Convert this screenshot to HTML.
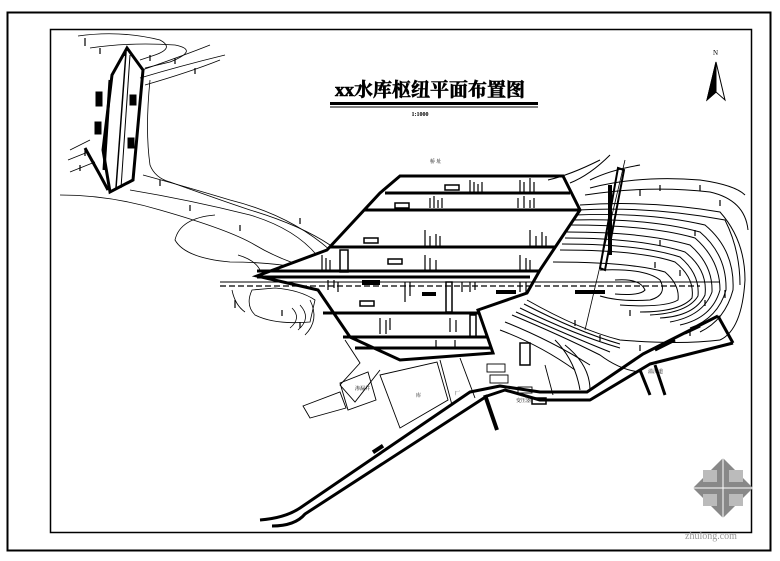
<!DOCTYPE html>
<html><head><meta charset="utf-8"><style>
html,body{margin:0;padding:0;background:#fff}
svg{display:block}
text{font-family:"Liberation Serif","Noto Serif CJK SC",serif}
</style></head><body>
<svg width="780" height="561" viewBox="0 0 780 561" xmlns="http://www.w3.org/2000/svg">
<rect x="0" y="0" width="780" height="561" fill="#fff"/>
<rect x="7.5" y="12.5" width="763" height="538" fill="none" stroke="#000" stroke-width="2"/>
<rect x="50.5" y="29.5" width="701" height="503" fill="none" stroke="#000" stroke-width="1.5"/>

<!-- title -->
<text x="430" y="96" font-size="19" font-weight="bold" text-anchor="middle" stroke="#000" stroke-width="0.6">xx水库枢纽平面布置图</text>
<rect x="330" y="102" width="208" height="3" fill="#000"/>
<rect x="330" y="106.5" width="208" height="1" fill="#000"/>
<text x="420" y="116" font-size="6" text-anchor="middle" font-weight="bold">1:1000</text>

<!-- north arrow -->
<g stroke="#000" fill="none">
<polygon points="716,62 707,100 716,92 725,100" stroke-width="1"/>
<polygon points="716,62 707,100 716,92" fill="#000"/>
</g>
<text x="713" y="55" font-size="7">N</text>

<!-- left dam -->
<g fill="none" stroke="#000">
<polygon points="127,48 143,70 133,180 110,192 103,150 112,75" stroke-width="3"/>
<line x1="126" y1="52" x2="116" y2="188" stroke-width="1.5"/>
<line x1="130" y1="55" x2="121" y2="188" stroke-width="1"/>
<line x1="110" y1="80" x2="104" y2="170" stroke-width="3"/>
<path d="M85,148 L100,175 L108,190" stroke-width="3"/>
<rect x="96" y="92" width="6" height="14" fill="#000"/>
<rect x="95" y="122" width="6" height="12" fill="#000"/>
<rect x="130" y="95" width="6" height="10" fill="#000"/>
<rect x="128" y="138" width="6" height="10" fill="#000"/>
<g stroke-width="0.8">
<path d="M78,36 Q120,30 160,40 Q175,48 155,55 L140,60"/>
<path d="M90,48 Q130,42 175,45 Q200,50 170,62 L145,68"/>
<path d="M140,78 Q180,66 225,55"/>
<path d="M145,85 Q190,72 220,60"/>
<path d="M142,70 Q185,55 210,45"/>
<path d="M70,150 L90,140"/><path d="M68,160 L88,152"/><path d="M70,172 L95,162"/>
<path d="M150,80 Q145,130 150,165 Q155,178 170,182 Q220,200 250,210 Q300,225 330,245"/>
<path d="M143,175 Q180,185 230,200 Q290,215 330,250"/>
<path d="M130,190 Q190,200 250,215 Q300,230 322,262"/>
<path d="M60,195 Q110,195 160,210 Q230,230 255,245 Q280,260 315,270"/>
<path d="M215,215 Q180,218 175,240 Q185,258 230,262 Q270,262 300,268"/>
<path d="M238,255 Q255,260 260,270"/>
</g>
<path d="M252,290 Q245,305 255,315 Q275,325 310,322 L315,300 Q300,290 275,288 Z" stroke-width="0.8"/>
<path d="M232,290 Q235,305 245,312" stroke-width="0.8"/>
<path d="M310,300 Q320,320 305,335" stroke-width="0.8"/>
<path d="M300,305 Q312,318 298,330 M292,308 Q302,318 290,328" stroke-width="0.8"/>
</g>
<g stroke="#000" stroke-width="1.2">
<path d="M85,38v8M100,48v6M125,50v6M150,55v6M175,58v6M195,68v6M85,150v6M80,165v6M160,180v6M190,205v6M240,225v6M300,218v6M235,300v8M282,310v6M300,322v6"/>
</g>

<!-- main dam -->
<g fill="none" stroke="#000">
<polygon points="400,176 563,176 580,210 540,270 527,293 478,310 493,353 400,360 350,337 318,290 257,276 327,250 380,193" stroke-width="3" fill="#fff"/>
<g stroke-width="3">
<line x1="385" y1="193" x2="570" y2="193"/>
<line x1="365" y1="210" x2="580" y2="210"/>
<line x1="330" y1="247" x2="555" y2="247"/>
<line x1="257" y1="271" x2="540" y2="271"/>
<line x1="257" y1="277" x2="530" y2="277"/>
<line x1="323" y1="313" x2="480" y2="313"/>
<line x1="343" y1="337" x2="487" y2="337"/>
<line x1="355" y1="348" x2="490" y2="348"/>
</g>
<line x1="220" y1="282" x2="720" y2="282" stroke-width="1"/>
<line x1="220" y1="286" x2="700" y2="286" stroke-width="1.2" stroke-dasharray="6,3"/>
<rect x="340" y="250" width="8" height="22" stroke-width="1.5"/>
<rect x="446" y="282" width="6" height="30" stroke-width="1.5"/>
<rect x="470" y="315" width="6" height="22" stroke-width="1.5"/>
<rect x="445" y="185" width="14" height="5" stroke-width="1.5"/>
<rect x="395" y="203" width="14" height="5" stroke-width="1.5"/>
<rect x="364" y="238" width="14" height="5" stroke-width="1.5"/>
<rect x="388" y="259" width="14" height="5" stroke-width="1.5"/>
<rect x="360" y="301" width="14" height="5" stroke-width="1.5"/>
</g>
<g fill="#000">
<rect x="362" y="280" width="18" height="5"/>
<rect x="422" y="292" width="14" height="4"/>
<rect x="496" y="290" width="20" height="4"/>
<rect x="575" y="290" width="30" height="4"/>
</g>
<g stroke="#000" stroke-width="1.2">
<path d="M470,180v12M474,182v10M478,184v8M482,182v10M520,180v12M524,182v10M530,178v14M534,182v10"/>
<path d="M430,198v10M434,196v12M438,200v8M442,198v10M518,198v10M524,196v12M530,200v8M534,198v10"/>
<path d="M425,230v16M430,236v10M436,234v12M440,236v10M530,230v16M536,236v10M542,232v14M546,236v10"/>
<path d="M322,255v15M326,258v12M330,260v10M425,255v15M430,258v12M436,260v10M520,255v15M526,258v12M530,260v10"/>
<path d="M328,280v10M334,280v8M338,282v10M405,282v20M410,282v14M462,282v10M470,282v10M475,282v8M520,282v10M526,282v10"/>
<path d="M380,318v16M386,320v14M390,318v12M450,318v14M456,320v12M436,340v8M455,340v8"/>
</g>
<text x="430" y="163" font-size="5">桥 址</text>

<!-- spillway -->
<g fill="none" stroke="#000">
<path d="M618,168 L624,170 L605,270 L600,268 Z" stroke-width="2"/>
<line x1="610" y1="185" x2="610" y2="255" stroke-width="4"/>
<path d="M625,160 L585,330" stroke-width="0.8"/>
</g>

<!-- right contours -->
<g fill="none" stroke="#000" stroke-width="1">
<path d="M590,188 Q640,175 700,180 Q735,185 745,195"/>
<path d="M585,195 Q650,185 710,192 Q745,200 748,230"/>
<path d="M580,205 Q650,200 720,212 Q745,240 745,280 Q742,330 720,340"/>
<path d="M578,210 Q650,206 725,220 Q740,250 740,285"/>
<path d="M575,215 Q650,212 705,225 Q735,250 733,290 Q725,320 700,332"/>
<path d="M572,220 Q650,218 700,232 Q727,255 726,290 Q718,318 690,328"/>
<path d="M570,225 Q650,225 695,238 Q720,260 720,290 Q712,318 680,325"/>
<path d="M567,232 Q645,232 690,245 Q713,265 712,292 Q703,316 670,322"/>
<path d="M565,238 Q640,238 685,252 Q708,270 705,295 Q695,316 660,318"/>
<path d="M562,244 Q640,244 680,257 Q700,274 698,296 Q688,313 650,315"/>
<path d="M560,250 Q640,250 675,262 Q695,278 692,298 Q680,312 640,312"/>
<path d="M553,262 Q630,262 665,272 Q680,285 678,300 Q665,308 620,305"/>
<path d="M600,270 Q645,268 660,280 Q668,295 650,300 Q620,302 600,296"/>
<path d="M615,280 Q640,278 645,290 Q640,296 615,294"/>
<path d="M527,300 Q580,330 620,340 Q680,345 720,340"/>
<path d="M524,304 Q578,332 620,344"/>
<path d="M520,308 Q575,335 620,348"/>
<path d="M516,312 Q570,336 610,352"/>
<path d="M512,315 Q560,335 600,355 Q620,370 640,372"/>
<path d="M505,322 Q550,340 590,365"/>
<path d="M500,330 Q540,345 575,370"/>
<path d="M555,340 Q575,360 580,390"/>
<path d="M565,345 Q590,365 590,390"/>
<path d="M600,160 Q570,175 548,180"/>
<path d="M610,155 Q590,175 570,183"/>
<path d="M640,165 Q610,170 590,180"/>
</g>
<g stroke="#000" stroke-width="1.2">
<path d="M640,190v6M660,185v6M700,185v6M720,200v6M695,230v6M660,240v6M725,290v8M705,300v6M690,330v6M640,345v6M600,335v6M575,320v6M630,310v6M680,270v6M655,262v6"/>
</g>

<!-- road -->
<g fill="none" stroke="#000" stroke-linejoin="round">
<path d="M260,520 Q285,518 300,508 L470,392 L500,386 L540,392 L587,392 L643,354 L718,316" stroke-width="3"/>
<path d="M272,526 Q295,526 305,514 L487,396 L505,390 L540,400 L590,400 L650,364 L733,343" stroke-width="3"/>
<line x1="718" y1="316" x2="733" y2="343" stroke-width="3"/>
<path d="M485,395 L497,430" stroke-width="4"/>
<path d="M640,370 L650,395 M655,365 L665,395" stroke-width="3"/>
<path d="M655,350 L675,340 M685,333 L700,326" stroke-width="3"/>
</g>
<rect x="372" y="447" width="12" height="4" transform="rotate(-33 378 449)" fill="#000"/>

<!-- buildings -->
<g fill="none" stroke="#000" stroke-width="0.9">
<path d="M345,340 L360,363 L340,385 L355,402 L380,370"/>
<polygon points="340,383 368,372 376,400 348,410"/>
<polygon points="303,406 340,392 346,408 310,418"/>
<polygon points="380,375 437,362 448,400 400,428"/>
<path d="M440,360 L452,405 M460,358 L475,398"/>
<rect x="520" y="343" width="10" height="22" stroke-width="1.5"/>
<rect x="487" y="364" width="18" height="8"/>
<rect x="490" y="375" width="18" height="8"/>
<rect x="518" y="387" width="14" height="6"/>
<rect x="532" y="398" width="14" height="6" stroke-width="1.5"/>
<path d="M545,365 L553,395"/>
</g>
<g font-size="5" fill="#000">
<text x="355" y="390">渗漏井</text><text x="416" y="397">库</text><text x="455" y="395">厂</text>
<text x="516" y="402">变压器</text><text x="648" y="373">溢洪道</text>
</g>

<!-- watermark -->
<g transform="translate(723,488)">
<polygon points="0,-30 30,0 0,30 -30,0" fill="#888"/>
<polygon points="-20,-18 -6,-18 -6,-6 -20,-6" fill="#bbb"/>
<polygon points="6,-18 20,-18 20,-6 6,-6" fill="#bbb"/>
<polygon points="-20,6 -6,6 -6,18 -20,18" fill="#bbb"/>
<polygon points="6,6 20,6 20,18 6,18" fill="#bbb"/>
<path d="M-30,0 H30 M0,-30 V30" stroke="#fff" stroke-width="1"/>
</g>
<text x="685" y="539" font-size="10" fill="#999" font-family="Liberation Sans,sans-serif">zhulong.com</text>
</svg>
</body></html>
